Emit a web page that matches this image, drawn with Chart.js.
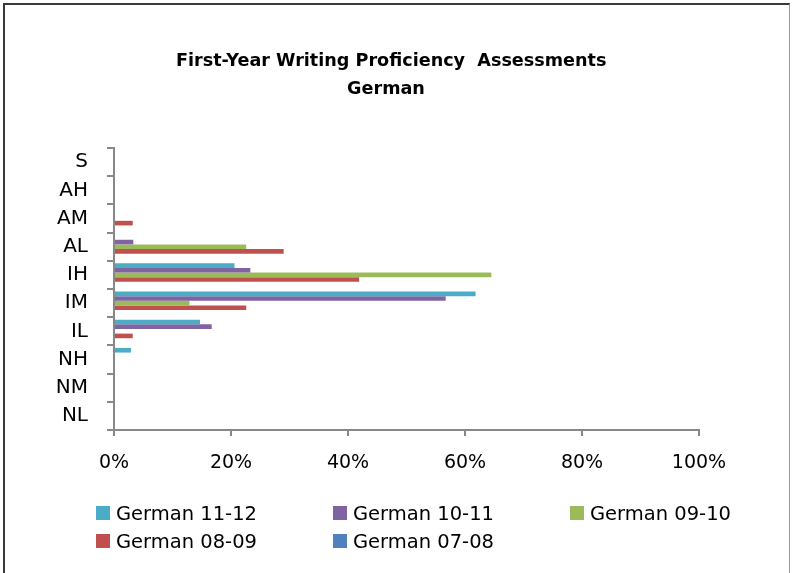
<!DOCTYPE html>
<html>
<head>
<meta charset="utf-8">
<script src="https://cdn.jsdelivr.net/npm/chart.js@4.4.0/dist/chart.umd.min.js"></script>
<style>
  html, body { margin: 0; padding: 0; background: #fff; }
  #wrap { position: relative; width: 794px; height: 573px; overflow: hidden; }
  #frame { position: absolute; left: 3px; top: 3px; width: 787px; height: 600px; border: 2px solid #3a3a3a; border-right-color: #999; border-right-width: 1px; box-sizing: border-box; pointer-events: none; }
  #chart { position: absolute; left: 0; top: 0; }
  #title { position: absolute; left: 176px; width: 420px; top: 46px; text-align: center; font-family: "DejaVu Sans", sans-serif; font-weight: bold; font-size: 17.6px; line-height: 28px; color: #000; white-space: pre; }
  .leg { position: absolute; display: flex; align-items: center; font-family: "DejaVu Sans", sans-serif; font-size: 19.5px; color: #000; white-space: nowrap; }
  .leg i { display: inline-block; width: 14px; height: 14px; margin-right: 6px; }
</style>
</head>
<body>
<div id="wrap">
  <canvas id="chart" width="794" height="573"></canvas>
  <div id="title"></div>
  <div id="legend"></div>
  <div id="frame"></div>
</div>
<script>
// ── Data ─────────────────────────────────────────────────────────────
const titleLines = ['First-Year Writing Proficiency  Assessments', 'German'];
const levels = ['S', 'AH', 'AM', 'AL', 'IH', 'IM', 'IL', 'NH', 'NM', 'NL'];
const xTicks = [0, 20, 40, 60, 80, 100];

const german1112 = [0, 0, 0, 0, 20.6, 61.8, 14.7, 2.9, 0, 0];
const german1011 = [0, 0, 0, 3.3, 23.3, 56.7, 16.7, 0, 0, 0];
const german0910 = [0, 0, 0, 22.6, 64.5, 12.9, 0, 0, 0, 0];
const german0809 = [0, 0, 3.2, 29.0, 41.9, 22.6, 3.2, 0, 0, 0];
const german0708 = [0, 0, 0, 0, 0, 0, 0, 0, 0, 0];

const series = [
  { label: 'German 11-12', data: german1112, color: '#4BACC6' },
  { label: 'German 10-11', data: german1011, color: '#8064A2' },
  { label: 'German 09-10', data: german0910, color: '#9BBB59' },
  { label: 'German 08-09', data: german0809, color: '#C0504D' },
  { label: 'German 07-08', data: german0708, color: '#4F81BD' },
];

// ── Chart ────────────────────────────────────────────────────────────
const AXIS = '#888888';
const FONT = '"DejaVu Sans", sans-serif';

document.getElementById('title').textContent = titleLines.join('\n');

new Chart(document.getElementById('chart'), {
  type: 'bar',
  data: {
    labels: levels,
    datasets: series.map(s => ({
      label: s.label, data: s.data, backgroundColor: s.color,
      borderWidth: 0, categoryPercentage: 0.82, barPercentage: 1.0,
    })),
  },
  options: {
    indexAxis: 'y',
    responsive: false,
    animation: false,
    layout: { padding: { top: 148, left: 20, right: 95, bottom: 103 } },
    plugins: {
      legend: { display: false },
      tooltip: { enabled: false },
    },
    scales: {
      x: {
        min: 0, max: 100,
        afterBuildTicks: scale => { scale.ticks = xTicks.map(v => ({ value: v })); },
        afterFit: scale => { scale.height = 40; },
        ticks: { color: '#000', font: { family: FONT, size: 19 }, padding: 16, maxRotation: 0, callback: v => v + '%' },
        grid: { drawOnChartArea: false, drawTicks: true, tickLength: 6, color: AXIS, lineWidth: 2 },
        border: { color: AXIS, width: 2 },
      },
      y: {
        afterFit: scale => { scale.width = 94; },
        ticks: { color: '#000', font: { family: FONT, size: 20 }, padding: 19 },
        grid: { offset: true, drawOnChartArea: false, drawTicks: true, tickLength: 7, color: AXIS, lineWidth: 2 },
        border: { color: AXIS, width: 2 },
      },
    },
  },
});

// ── Legend (three fixed columns like the original) ──────────────────
const legendEl = document.getElementById('legend');
const colX = [96, 333, 570];
const rowY = [506, 534];
series.forEach((s, i) => {
  const d = document.createElement('div');
  d.className = 'leg';
  d.style.left = colX[i % 3] + 'px';
  d.style.top = (rowY[Math.floor(i / 3)] - 5) + 'px';
  d.style.height = '24px';
  d.innerHTML = `<i style="background:${s.color}"></i><span>${s.label}</span>`;
  legendEl.appendChild(d);
});
</script>
</body>
</html>
